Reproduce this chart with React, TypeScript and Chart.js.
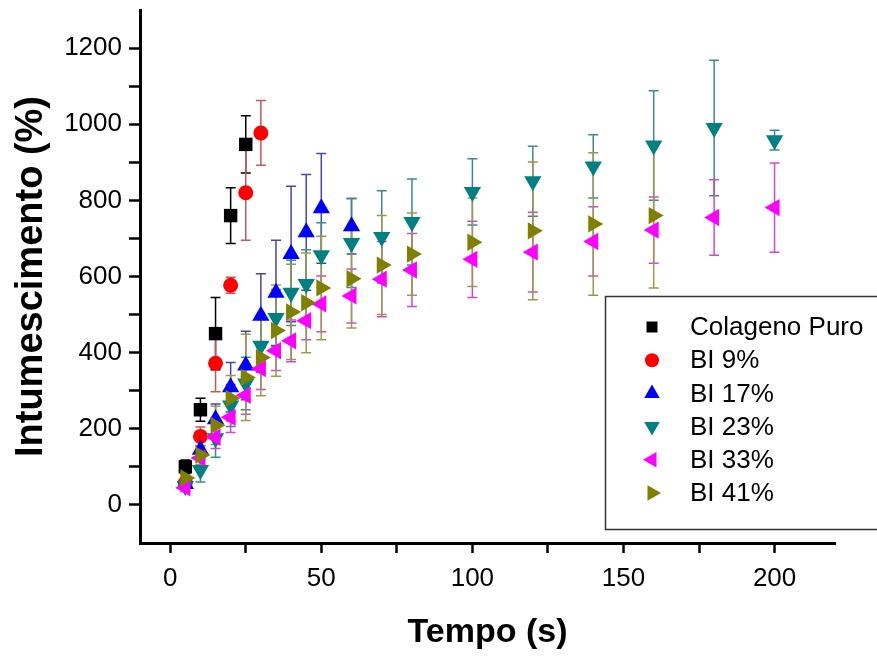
import React, { useEffect, useRef } from 'react';
import { Chart, registerables } from 'chart.js';

Chart.register(...registerables);

const FONT = "'Liberation Sans', Arial, Helvetica, sans-serif";

// ---- data ----
const SERIES_NAMES = ['Colageno Puro', 'BI 9%', 'BI 17%', 'BI 23%', 'BI 33%', 'BI 41%'];

const colagenoTime = [5, 10, 15, 20, 25];
const colagenoValues = [100, 250, 450, 760, 947];
const colagenoErrors = [18, 30, 95, 73, 75];

const bi9Time = [5, 10, 15, 20, 25, 30];
const bi9Values = [58, 180, 372, 577, 820, 977];
const bi9Errors = [12, 25, 75, 21, 125, 85];

const bi17Time = [5, 10, 15, 20, 25, 30, 35, 40, 45, 50, 60];
const bi17Values = [55, 145, 225, 309, 366, 497, 557, 659, 716, 779, 732];
const bi17Errors = [12, 25, 40, 65, 90, 110, 138, 178, 152, 144, 73];

const bi23Time = [5, 10, 15, 20, 25, 30, 35, 40, 45, 50, 60, 70, 80, 100, 120, 140, 160, 180, 200];
const bi23Values = [50, 92, 175, 261, 319, 418, 491, 557, 580, 656, 688, 704, 743, 822, 850, 889, 944, 990, 958];
const bi23Errors = [15, 32, 50, 55, 69, 70, 75, 86, 90, 85, 117, 121, 113, 87, 92, 83, 144, 178, 26];

const bi33Time = [5, 10, 15, 20, 25, 30, 35, 40, 45, 50, 60, 70, 80, 100, 120, 140, 160, 180, 200];
const bi33Values = [45, 123, 178, 230, 288, 358, 405, 431, 484, 528, 549, 593, 617, 645, 664, 692, 722, 755, 781];
const bi33Errors = [10, 20, 30, 40, 50, 55, 52, 55, 50, 73, 71, 99, 96, 100, 105, 91, 87, 99, 117];

const bi41Time = [5, 10, 15, 20, 25, 30, 35, 40, 45, 50, 60, 70, 80, 100, 120, 140, 160];
const bi41Values = [71, 131, 209, 280, 335, 387, 458, 507, 531, 570, 594, 630, 659, 690, 720, 738, 760];
const bi41Errors = [15, 25, 50, 60, 113, 100, 120, 125, 131, 136, 129, 130, 108, 116, 181, 187, 190];

const X_TICKS = [0, 25, 50, 75, 100, 125, 150, 175, 200];
const Y_TICKS = [0, 100, 200, 300, 400, 500, 600, 700, 800, 900, 1000, 1100, 1200];

// ---- styles ----
const MARKER_COLORS = ['#000000', '#ff0000', '#0000ff', '#008080', '#ff00ff', '#808000'];
const ERROR_COLORS = ['#000000', '#c05a5a', '#4048a8', '#3a8c8c', '#d048d0', '#9a9a48'];
const POINT_STYLES = ['rect', 'circle', 'triangle', 'triangle', 'triangle', 'triangle'];
const ROTATIONS = [0, 0, 0, 180, -90, 90];
const RADII = [9.5, 7.5, 10, 10, 10, 10];

const TIMES = [colagenoTime, bi9Time, bi17Time, bi23Time, bi33Time, bi41Time];
const VALUES = [colagenoValues, bi9Values, bi17Values, bi23Values, bi33Values, bi41Values];
const ERRORS = [colagenoErrors, bi9Errors, bi17Errors, bi23Errors, bi33Errors, bi41Errors];

const errorBarPlugin = {
  id: 'errorBars',
  beforeDatasetsDraw(chart: any) {
    const { ctx, scales } = chart;
    const xs = scales.x;
    const ys = scales.y;
    ctx.save();
    ctx.lineWidth = 1.5;
    for (let s = 0; s < TIMES.length; s++) {
      ctx.strokeStyle = ERROR_COLORS[s];
      const t = TIMES[s];
      for (let i = 0; i < t.length; i++) {
        const px = xs.getPixelForValue(t[i]);
        const top = ys.getPixelForValue(VALUES[s][i] + ERRORS[s][i]);
        const bot = ys.getPixelForValue(VALUES[s][i] - ERRORS[s][i]);
        ctx.beginPath();
        ctx.moveTo(px, top);
        ctx.lineTo(px, bot);
        ctx.moveTo(px - 5, top);
        ctx.lineTo(px + 5, top);
        ctx.moveTo(px - 5, bot);
        ctx.lineTo(px + 5, bot);
        ctx.stroke();
      }
    }
    ctx.restore();
  },
};

function drawMarker(ctx: CanvasRenderingContext2D, idx: number, x: number, y: number) {
  ctx.save();
  ctx.fillStyle = MARKER_COLORS[idx];
  ctx.beginPath();
  const style = POINT_STYLES[idx];
  if (style === 'rect') {
    const h = 5.5;
    ctx.rect(x - h, y - h, 2 * h, 2 * h);
  } else if (style === 'circle') {
    ctx.arc(x, y, 7, 0, Math.PI * 2);
  } else {
    const r = 9;
    const rot = (ROTATIONS[idx] * Math.PI) / 180;
    for (let k = 0; k < 3; k++) {
      const a = rot + (k * 2 * Math.PI) / 3;
      const px = x + Math.sin(a) * r;
      const py = y - Math.cos(a) * r;
      if (k === 0) ctx.moveTo(px, py);
      else ctx.lineTo(px, py);
    }
    ctx.closePath();
  }
  ctx.fill();
  ctx.restore();
}

const legendPlugin = {
  id: 'boxLegend',
  afterDraw(chart: any) {
    const { ctx } = chart;
    const left = 605;
    const top = 296;
    const bottom = 529;
    ctx.save();
    ctx.fillStyle = '#ffffff';
    ctx.fillRect(left, top, 400, bottom - top);
    ctx.strokeStyle = '#333333';
    ctx.lineWidth = 1.5;
    ctx.strokeRect(left + 0.5, top + 0.5, 400, bottom - top);
    ctx.font = `26px ${FONT}`;
    ctx.textBaseline = 'middle';
    ctx.textAlign = 'left';
    for (let i = 0; i < SERIES_NAMES.length; i++) {
      const y = top + 31 + i * 33.2;
      drawMarker(ctx, i, 652, y);
      ctx.fillStyle = '#000000';
      ctx.fillText(SERIES_NAMES[i], 690, y + 1);
    }
    ctx.restore();
  },
};

export default function App() {
  const ref = useRef<HTMLCanvasElement>(null);
  useEffect(() => {
    const datasets = SERIES_NAMES.map((name, s) => ({
      label: name,
      data: TIMES[s].map((t, i) => ({ x: t, y: VALUES[s][i] })),
      showLine: false,
      pointStyle: POINT_STYLES[s],
      pointRotation: ROTATIONS[s],
      pointRadius: RADII[s],
      pointHoverRadius: RADII[s],
      pointBackgroundColor: MARKER_COLORS[s],
      pointBorderColor: MARKER_COLORS[s],
      pointBorderWidth: 0,
      backgroundColor: MARKER_COLORS[s],
      borderColor: MARKER_COLORS[s],
      order: SERIES_NAMES.length - s,
    }));
    const chart = new Chart(ref.current as HTMLCanvasElement, {
      type: 'scatter',
      data: { datasets },
      plugins: [errorBarPlugin, legendPlugin],
      options: {
        animation: false,
        responsive: true,
        maintainAspectRatio: false,
        layout: { padding: { top: 10, right: 42, left: 0, bottom: 0 } },
        plugins: { legend: { display: false }, tooltip: { enabled: false } },
        scales: {
          x: {
            type: 'linear',
            position: 'bottom',
            min: -10,
            max: 220,
            afterBuildTicks: (scale: any) => {
              scale.ticks = X_TICKS.map((v) => ({ value: v }));
            },
            afterFit: (scale: any) => {
              scale.height = 119;
              scale.paddingLeft = 0;
              scale.paddingRight = 0;
            },
            grid: {
              drawOnChartArea: false,
              drawTicks: true,
              tickLength: 10,
              tickWidth: 2.5,
              tickColor: '#000000',
            },
            border: { display: true, color: '#000000', width: 3 },
            ticks: {
              color: '#000000',
              font: { family: FONT, size: 26 },
              padding: 10,
              maxRotation: 0,
              autoSkip: false,
              callback: (v: any) => (Number(v) % 50 === 0 ? String(v) : ''),
            },
            title: {
              display: true,
              text: 'Tempo (s)',
              color: '#000000',
              font: { family: FONT, size: 34, weight: 'bold' },
              padding: { top: 0, bottom: 9 },
            },
          },
          y: {
            type: 'linear',
            position: 'left',
            min: -100,
            max: 1300,
            afterBuildTicks: (scale: any) => {
              scale.ticks = Y_TICKS.map((v) => ({ value: v }));
            },
            afterFit: (scale: any) => {
              scale.width = 140;
              scale.paddingTop = 0;
              scale.paddingBottom = 0;
            },
            grid: {
              drawOnChartArea: false,
              drawTicks: true,
              tickLength: 11,
              tickWidth: 2.5,
              tickColor: '#000000',
            },
            border: { display: true, color: '#000000', width: 3 },
            ticks: {
              color: '#000000',
              font: { family: FONT, size: 26 },
              padding: 7,
              autoSkip: false,
              callback: (v: any) => (Number(v) % 200 === 0 ? String(v) : ''),
            },
            title: {
              display: true,
              text: 'Intumescimento (%)',
              color: '#000000',
              font: { family: FONT, size: 38, weight: 'bold' },
              padding: { top: 9, bottom: 0 },
            },
          },
        },
      },
    } as any);
    return () => chart.destroy();
  }, []);
  return (
    <div style={{ position: 'absolute', left: 0, top: 0, width: 877, height: 662, background: '#ffffff' }}>
      <canvas ref={ref} />
    </div>
  );
}
